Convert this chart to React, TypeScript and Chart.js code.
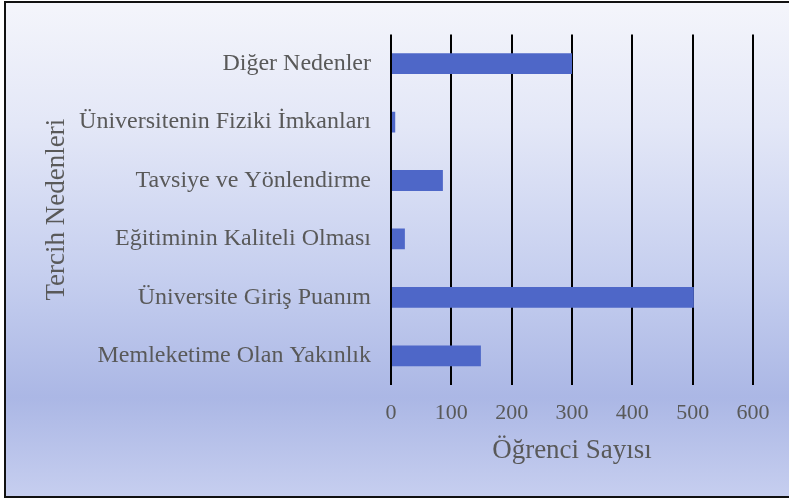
import React, { useEffect, useRef } from "react";
import { Chart, registerables } from "chart.js";

Chart.register(...registerables);

const categories = [
  "Diğer Nedenler",
  "Üniversitenin Fiziki İmkanları",
  "Tavsiye ve Yönlendirme",
  "Eğitiminin Kaliteli Olması",
  "Üniversite Giriş Puanım",
  "Memleketime Olan Yakınlık",
];
const studentCounts = [300, 7, 86, 23, 502, 149];
const xTitle = "Öğrenci Sayısı";
const yTitle = "Tercih Nedenleri";

const FONT = "'Liberation Serif', 'Times New Roman', serif";
const TEXT = "#595959";

export default function App() {
  const ref = useRef<HTMLCanvasElement | null>(null);
  useEffect(() => {
    if (!ref.current) return;
    const chart = new Chart(ref.current, {
      type: "bar",
      data: {
        labels: categories,
        datasets: [
          {
            data: studentCounts,
            backgroundColor: "#4e67c8",
            barPercentage: 0.356,
            categoryPercentage: 1,
          },
        ],
      },
      options: {
        indexAxis: "y",
        animation: false,
        responsive: false,
        maintainAspectRatio: false,
        layout: { padding: { top: 31, right: 36, bottom: 0, left: 0 } },
        plugins: { legend: { display: false }, tooltip: { enabled: false } },
        scales: {
          x: {
            min: 0,
            max: 600,
            ticks: {
              stepSize: 100,
              color: TEXT,
              padding: 15,
              font: { family: FONT, size: 22 },
            },
            grid: { color: "#000", lineWidth: 2, drawTicks: false },
            border: { display: false },
            title: {
              display: true,
              text: xTitle,
              color: TEXT,
              font: { family: FONT, size: 27 },
              padding: { top: 0, bottom: 31 },
            },
            afterFit: (scale: any) => {
              scale.height = 113;
            },
          },
          y: {
            ticks: {
              color: TEXT,
              padding: 20,
              font: { family: FONT, size: 24 },
            },
            grid: { display: false, drawTicks: false },
            border: { display: false },
            title: {
              display: true,
              text: yTitle,
              color: TEXT,
              font: { family: FONT, size: 27 },
              padding: { top: 41, bottom: 0 },
            },
            afterFit: (scale: any) => {
              scale.width = 391;
            },
          },
        },
      },
    });
    return () => chart.destroy();
  }, []);

  return (
    <div
      style={{
        position: "fixed",
        left: 0,
        top: 0,
        width: 789,
        height: 498,
        overflow: "hidden",
        background: "#fff",
      }}
    >
      <div
        style={{
          position: "absolute",
          left: 4,
          top: 1,
          width: 900,
          height: 493,
          border: "2px solid #111",
          boxSizing: "content-box",
          background:
            "linear-gradient(to bottom, #f4f5fb 0%, #e3e7f7 25%, #c6cfef 55%, #abb7e5 80%, #c6ceef 100%)",
        }}
      />
      <canvas
        ref={ref}
        width={789}
        height={498}
        style={{ position: "absolute", left: 0, top: 0, width: 789, height: 498 }}
      />
    </div>
  );
}
